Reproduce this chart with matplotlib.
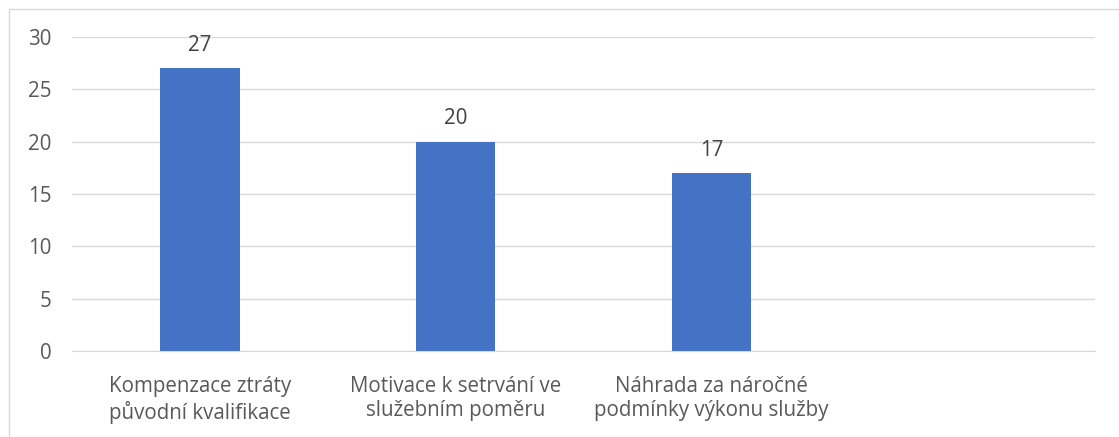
import matplotlib.pyplot as plt
from matplotlib.patches import Rectangle

categories = ["Kompenzace ztráty\npůvodní kvalifikace",
              "Motivace k setrvání ve\nslužebním poměru",
              "Náhrada za náročné\npodmínky výkonu služby",
              ""]
values = [27, 20, 17, None]
yticks = [0, 5, 10, 15, 20, 25, 30]

W, H = 1119, 437
fig = plt.figure(figsize=(W / 100, H / 100), dpi=100)
plt.rcParams['font.family'] = ['Open Sans', 'DejaVu Sans']

# chart border (only left/top visible in the original)
fig.patches.append(Rectangle((9 / W, -0.1), 1.2, (H - 9) / H + 0.1,
                             transform=fig.transFigure, fill=False,
                             edgecolor='#d9d9d9', linewidth=1.0))

ax = fig.add_axes([72 / W, (H - 351) / H, (1095 - 72) / W, (351 - 37) / H])

xs = list(range(len(categories)))
bar_x = [x for x, v in zip(xs, values) if v is not None]
bar_v = [v for v in values if v is not None]
bars = ax.bar(bar_x, bar_v, width=0.31, color='#4472c4', zorder=3)

for x, v in zip(bar_x, bar_v):
    ax.text(x, v + 1.2, str(v), ha='center', va='bottom',
            fontsize=14.8, color='#404040')

ax.set_xlim(-0.5, len(categories) - 0.5)
ax.set_ylim(0, 30)
ax.set_yticks(yticks)
ax.set_xticks(xs)
ax.set_xticklabels(categories, linespacing=1.2)
ax.grid(axis='y', color='#d9d9d9', linewidth=1.0, zorder=0)
for s in ['top', 'right', 'left']:
    ax.spines[s].set_visible(False)
ax.spines['bottom'].set_color('#d9d9d9')
ax.tick_params(axis='both', length=0, labelsize=14.8, labelcolor='#595959')
ax.tick_params(axis='y', pad=15)
ax.tick_params(axis='x', pad=18)

fig.savefig('out.png', dpi=100)
